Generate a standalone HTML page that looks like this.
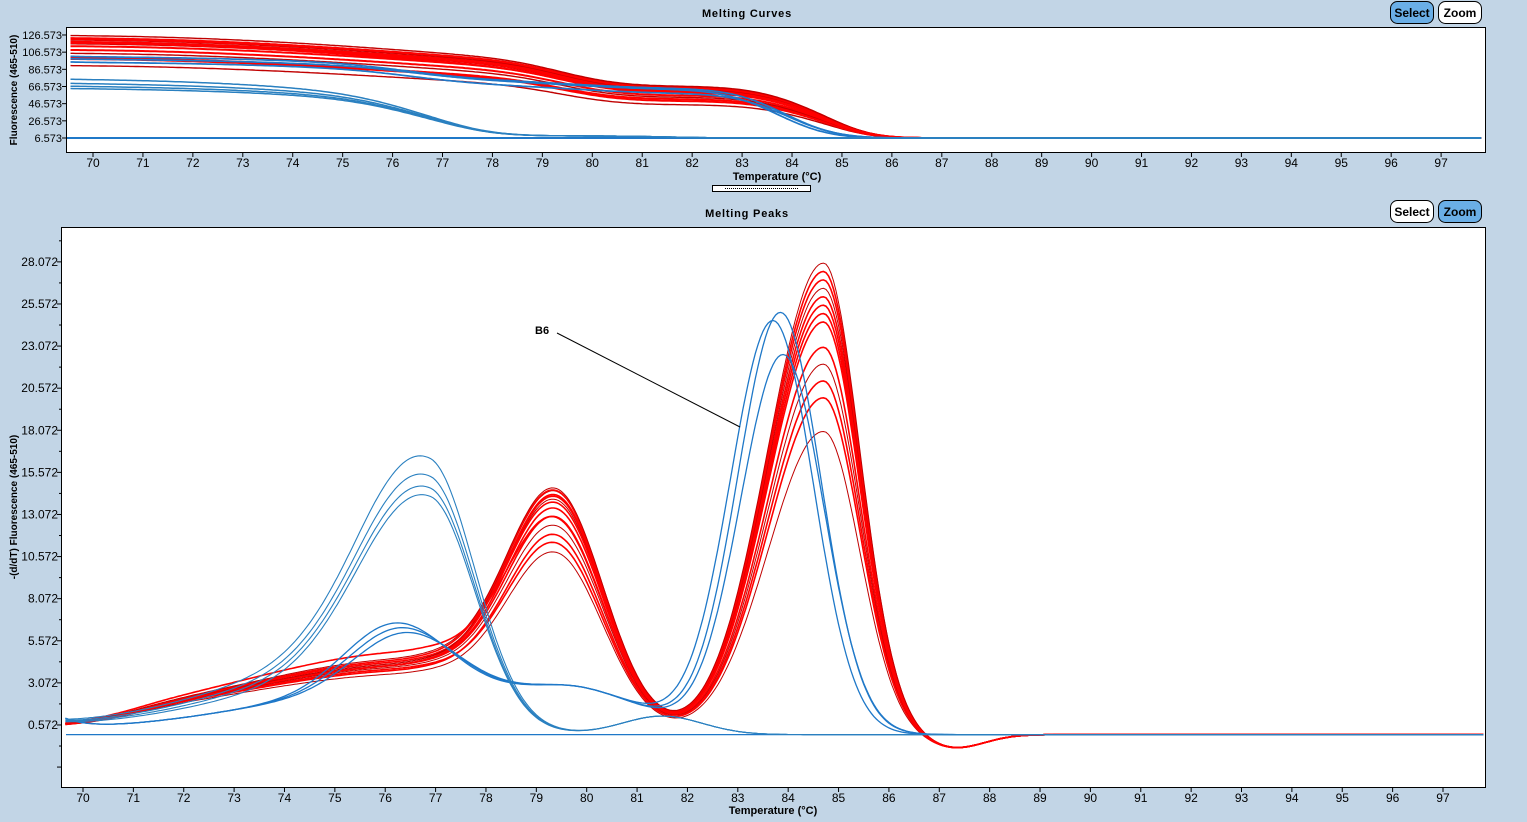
<!DOCTYPE html>
<html><head><meta charset="utf-8"><style>
body{margin:0;background:#c2d5e6;width:1527px;height:822px;overflow:hidden;font-family:"Liberation Sans",sans-serif}
svg{position:absolute;left:0;top:0}
</style></head><body>
<svg id="s" width="1527" height="822" xmlns="http://www.w3.org/2000/svg" font-family="Liberation Sans, sans-serif">
<rect x="0" y="0" width="1527" height="822" fill="#c2d5e6"/>
<text x="747" y="17" font-size="11" font-weight="bold" text-anchor="middle" letter-spacing="0.8">Melting Curves</text>
<text x="747" y="217" font-size="11" font-weight="bold" text-anchor="middle" letter-spacing="0.8">Melting Peaks</text>
<rect x="66.5" y="27.5" width="1419" height="125" fill="#fff" stroke="#000"/>
<rect x="61.5" y="227.5" width="1424" height="560" fill="#fff" stroke="#000"/>
<g font-size="12" font-weight="bold">
<rect x="1390.5" y="1.5" width="43" height="22" rx="7" fill="#6aaee6" stroke="#000"/><text x="1412" y="17" text-anchor="middle">Select</text>
<rect x="1438.5" y="1.5" width="43" height="22" rx="7" fill="#fff" stroke="#000"/><text x="1460" y="17" text-anchor="middle">Zoom</text>
<rect x="1390.5" y="200.5" width="43" height="22" rx="7" fill="#fff" stroke="#000"/><text x="1412" y="216" text-anchor="middle">Select</text>
<rect x="1438.5" y="200.5" width="43" height="22" rx="7" fill="#6aaee6" stroke="#000"/><text x="1460" y="216" text-anchor="middle">Zoom</text>
</g>
<rect x="712.5" y="185.5" width="98" height="6" fill="#fff" stroke="#000"/>
<line x1="725" y1="188.5" x2="798" y2="188.5" stroke="#000" stroke-dasharray="1,1"/>
<text x="777" y="180" font-size="11" font-weight="bold" text-anchor="middle">Temperature (°C)</text>
<text x="773" y="814" font-size="11" font-weight="bold" text-anchor="middle">Temperature (°C)</text>
<text transform="translate(17,90) rotate(-90)" font-size="10" font-weight="bold" text-anchor="middle">Fluorescence (465-510)</text>
<text transform="translate(17,507) rotate(-90)" font-size="10" font-weight="bold" text-anchor="middle">-(d/dT) Fluorescence (465-510)</text>
<g id="ax"></g>
<g id="cv"></g>
<text x="535" y="334" font-size="11" font-weight="bold">B6</text>
<line x1="557" y1="333" x2="740" y2="427" stroke="#000"/>
</svg>
<script>
const NS="http://www.w3.org/2000/svg";
const ax=document.getElementById('ax'),cv=document.getElementById('cv');
function el(p,t,a,txt){const e=document.createElementNS(NS,t);for(const k in a)e.setAttribute(k,a[k]);if(txt!==undefined)e.textContent=txt;p.appendChild(e);return e;}
const tx=T=>93+(T-70)*49.93, ty=v=>138-(v-6.573)*17.17/20;
const bx=T=>83+(T-70)*50.37, by=v=>734.6-v*16.84;
for(let T=70;T<=97;T++){
 el(ax,'line',{x1:tx(T),y1:153,x2:tx(T),y2:157,stroke:'#000'});
 el(ax,'text',{x:tx(T),y:167,'font-size':12,'text-anchor':'middle'},T);
 el(ax,'line',{x1:bx(T),y1:788,x2:bx(T),y2:792,stroke:'#000'});
 el(ax,'text',{x:bx(T),y:802,'font-size':12,'text-anchor':'middle'},T);
}
for(let i=0;i<7;i++){const v=6.573+20*i,y=ty(v);
 el(ax,'line',{x1:62,y1:y,x2:66,y2:y,stroke:'#000'});
 el(ax,'text',{x:62,y:y+4,'font-size':11,'text-anchor':'end'},v.toFixed(3));}
for(let i=-2;i<=12;i++){const v=0.572+2.5*i,y=by(v);
 if(y>228&&y<787){el(ax,'line',{x1:57,y1:y,x2:61,y2:y,stroke:'#000'});
 if(i>=0)el(ax,'text',{x:58,y:y+4,'font-size':12,'text-anchor':'end'},v.toFixed(3));}
 const y2=by(v+1.25); if(y2>228&&y2<787)el(ax,'line',{x1:59,y1:y2,x2:61,y2:y2,stroke:'#000'});}
function g(T,c,h,sl,sr){const s=T<c?sl:sr;return h*Math.exp(-(T-c)*(T-c)/(2*s*s));}
function red(T,p){return g(T,76.6,p.b,3.2,1.6)+g(T,79.4,p.A,1.0,0.95)+g(T,84.7,p.B,1.1,0.72)-0.8*Math.exp(-Math.pow(T-87.3,2)/(2*0.35))+0.3/(1+Math.exp((T-80)*2))+0.8/(1+Math.exp(-(T-71)*2))/(1+Math.exp((T-78)*2));}
function b1(T,p){return g(T,77,2.8,3.5,2.5)+g(T,p.hc,p.hh,1.0,1.0)+g(T,80,1.4,1.0,1.2)+g(T,p.c,p.B,0.85,0.8)+0.6*Math.exp(-(T-69.7)*2);}
function b2(T,p){return g(T,75.5,p.b,3.0,1.5)+g(T,76.9,p.A,1.35,0.9)+g(T,81.5,1.1,0.8,0.8)+0.3*Math.exp(-(T-69.7));}
const curves=[];
const reds=[[18,10,2.5],[20,11,2.7],[21,10.5,2.8],[22,11.5,2.9],[23,12,3],[24.5,12.5,3],[25,13,3.1],[25.5,12.8,3.2],[26,13.3,3],[26.5,13.5,3.1],[27,13.5,3.3],[27.5,13.2,3],[28,13.6,3.4],[25,11.8,3.8]];
reds.forEach((r,i)=>curves.push({f:T=>red(T,{B:r[0],A:r[1],b:r[2]}),col:i%3==0?'#c00000':'#f00',w:i%3==0?1:1.6,s:0.95}));
[[22.5,83.9,76.3,3.6],[24.5,83.7,76.4,3.3],[25,83.85,76.2,3.9]].forEach(r=>curves.push({f:T=>b1(T,{B:r[0],c:r[1],hc:r[2],hh:r[3]}),col:'#1f78c8',w:1.3,s:1.1}));
[[12.2,3.0],[12.5,3.3],[13,3.6],[13.8,4.0]].forEach(r=>curves.push({f:T=>b2(T,{A:r[0],b:r[1]}),col:'#2a80c0',w:1.1,s:1.08}));
function path(pts){return 'M'+pts.map(p=>p[0].toFixed(1)+','+p[1].toFixed(1)).join('L');}
el(cv,'line',{x1:66,y1:by(0),x2:1481,y2:by(0),stroke:'#1f78c8','stroke-width':1.3});
el(cv,'line',{x1:67,y1:ty(6.573),x2:1481,y2:ty(6.573),stroke:'#1f78c8','stroke-width':2});
curves.forEach(c=>{
 const pts=[];for(let T=69.65;T<=97.8;T+=0.05)pts.push([bx(T),by(c.f(T))]);
 el(cv,'path',{d:path(pts),fill:'none',stroke:c.col,'stroke-width':c.w});
 const arr=[];let acc=0;const dT=0.05;
 for(let T=97.8;T>=69.5;T-=dT){acc+=Math.max(c.f(T),0)*dT;arr.push([T,acc]);}
 arr.reverse();
 const tp=arr.filter(a=>a[0]>=69.55).map(a=>[tx(a[0]),ty(6.573+a[1]*c.s)]);
 el(cv,'path',{d:path(tp),fill:'none',stroke:c.col,'stroke-width':c.w+0.4});
});
</script>
</body></html>
